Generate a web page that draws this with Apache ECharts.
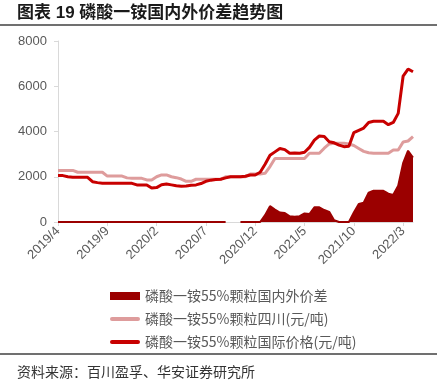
<!DOCTYPE html>
<html><head><meta charset="utf-8">
<script src="https://cdn.jsdelivr.net/npm/echarts@6/dist/echarts.min.js"></script>
<style>html,body{margin:0;padding:0;background:#fff}#c{width:437px;height:384px}</style>
</head><body><div id="c"></div>
<script>
const dates = [
"2019/4/1","2019/4/16","2019/5/1","2019/5/16","2019/6/1","2019/6/16","2019/7/1","2019/7/16","2019/8/1","2019/8/16",
"2019/9/1","2019/9/16","2019/10/1","2019/10/16","2019/11/1","2019/11/16","2019/12/1","2019/12/16",
"2020/1/1","2020/1/16","2020/2/1","2020/2/16","2020/3/1","2020/3/16","2020/4/1","2020/4/16","2020/5/1","2020/5/16",
"2020/6/1","2020/6/16","2020/7/1","2020/7/16","2020/8/1","2020/8/16","2020/9/1","2020/9/16","2020/10/1","2020/10/16",
"2020/11/1","2020/11/16","2020/12/1","2020/12/16",
"2021/1/1","2021/1/16","2021/2/1","2021/2/16","2021/3/1","2021/3/16","2021/4/1","2021/4/16","2021/5/1","2021/5/16",
"2021/6/1","2021/6/16","2021/7/1","2021/7/16","2021/8/1","2021/8/16","2021/9/1","2021/9/16","2021/10/1","2021/10/16",
"2021/11/1","2021/11/16","2021/12/1","2021/12/16",
"2022/1/1","2022/1/16","2022/2/1","2022/2/16","2022/3/1","2022/3/16","2022/4/1"
];
const sichuan = [
2280,2280,2280,2280,2200,2200,2200,2200,2200,2200,
2030,2030,2030,2030,1950,1930,1930,1930,
1860,1860,2000,2080,2080,2000,1960,1900,1800,1800,
1890,1890,1890,1890,1890,1890,2000,2000,2000,2000,
2000,2120,2120,2120,
2150,2450,2810,2810,2810,2810,2810,2810,2810,3040,
3040,3040,3260,3450,3480,3480,3480,3450,3380,3250,
3120,3060,3040,3040,
3040,3040,3180,3180,3540,3580,3770
];
const international = [
2050,2050,2000,1975,1975,1975,1975,1780,1740,1710,
1710,1710,1710,1710,1710,1710,1640,1640,
1640,1500,1520,1650,1680,1640,1600,1580,1590,1620,
1640,1700,1800,1850,1880,1890,1950,2000,2000,2000,
2020,2080,2080,2200,
2550,2950,3100,3250,3200,3040,3050,3040,3080,3300,
3620,3800,3780,3550,3500,3400,3330,3350,3950,4050,
4150,4400,4450,4450,
4450,4300,4400,4800,6450,6760,6640
];
const spread = [
0,0,0,0,0,0,0,0,0,0,
0,0,0,0,0,0,0,0,
0,0,0,0,0,0,0,0,0,0,
0,0,0,0,0,0,0,null,null,0,
0,0,0,0,
300,700,550,420,400,250,230,260,380,350,
650,650,530,450,80,0,0,0,420,800,
850,1300,1380,1380,
1380,1250,1200,1600,2600,3150,2850
];
const names = ["磷酸一铵55%颗粒国内外价差","磷酸一铵55%颗粒四川(元/吨)","磷酸一铵55%颗粒国际价格(元/吨)"];
const yTicks = {min:0, max:8000, interval:2000};
const FONT = '"Liberation Sans","Noto Sans CJK SC",sans-serif';

const chart = echarts.init(document.getElementById('c'), null, {renderer:'canvas'});
chart.setOption({
  animation:false,
  textStyle:{fontFamily:FONT},
  grid:{left:58, top:41, width:355, height:181},
  xAxis:{
    type:'category', data:dates, boundaryGap:false,
    axisLine:{lineStyle:{color:'#D9D9D9', width:1}},
    axisTick:{interval:9, length:4, lineStyle:{color:'#D9D9D9'}},
    axisLabel:{interval:9, rotate:45, color:'#595959', fontSize:13, margin:7, fontFamily:FONT,
      formatter:v=>v.split('/').slice(0,2).join('/')}
  },
  yAxis:{
    type:'value', min:yTicks.min, max:yTicks.max, interval:yTicks.interval,
    splitLine:{show:false},
    axisLine:{show:true, lineStyle:{color:'#D9D9D9'}},
    axisTick:{show:true, length:4, lineStyle:{color:'#D9D9D9'}},
    axisLabel:{color:'#595959', fontSize:13, margin:11, fontFamily:FONT, formatter:v=>String(v)}
  },
  legend:{
    orient:'vertical', left:105, top:284, itemWidth:30, itemHeight:8, itemGap:9,
    textStyle:{color:'#595959', fontSize:14, lineHeight:14, fontFamily:'"Noto Sans CJK SC",sans-serif'},
    itemStyle:{borderWidth:0},
    data:[
      {name:names[0], icon:'rect'},
      {name:names[1], icon:'path://M2,0H28A2,2 0 0 1 28,4H2A2,2 0 0 1 2,0Z'},
      {name:names[2], icon:'path://M2,0H28A2,2 0 0 1 28,4H2A2,2 0 0 1 2,0Z'}
    ]
  },
  series:[
    {name:names[0], type:'line', data:spread, symbol:'none', clip:false,
      color:'#9B0000',
      lineStyle:{color:'#9B0000', width:2},
      areaStyle:{color:'#9B0000', opacity:1}},
    {name:names[1], type:'line', data:sichuan, symbol:'none',
      color:'#DE9C9C',
      lineStyle:{color:'#DE9C9C', width:3}},
    {name:names[2], type:'line', data:international, symbol:'none',
      color:'#C80000',
      lineStyle:{color:'#C80000', width:3}}
  ],
  graphic:[
    {type:'text', left:17, top:5, style:{text:'图表 19 磷酸一铵国内外价差趋势图', fontSize:17, fontWeight:'bold', fill:'#1a1a1a', fontFamily:'"Liberation Sans","Noto Sans CJK SC",sans-serif'}},
    {type:'line', shape:{x1:0,y1:25,x2:437,y2:25}, style:{stroke:'#404040', lineWidth:1.5}},
    {type:'line', shape:{x1:0,y1:354,x2:437,y2:354}, style:{stroke:'#404040', lineWidth:1.5}},
    {type:'text', left:17, top:365, style:{text:'资料来源：百川盈孚、华安证券研究所', fontSize:14, fill:'#333', fontFamily:'"Noto Sans CJK SC",sans-serif'}}
  ]
});
</script></body></html>
